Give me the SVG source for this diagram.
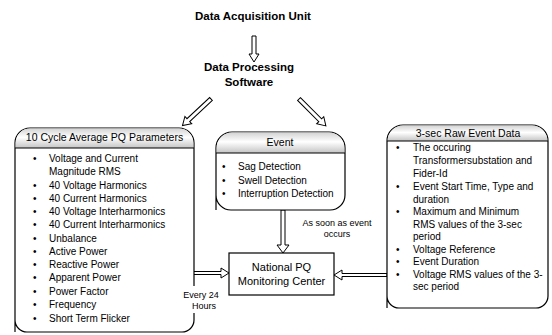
<svg xmlns="http://www.w3.org/2000/svg" width="552" height="335" viewBox="0 0 552 335">
<defs>
<linearGradient id="hdr" x1="0" y1="0" x2="0" y2="1">
<stop offset="0" stop-color="#d4d4d4"/>
<stop offset="0.45" stop-color="#ffffff"/>
<stop offset="1" stop-color="#c4c4c4"/>
</linearGradient>
<style>
text{font-family:"Liberation Sans",Arial,sans-serif;fill:#000}
.t{font-weight:bold;text-anchor:middle}
.h{font-size:10.5px;text-anchor:middle}
.l{font-size:10px}
.s{font-size:9px;text-anchor:middle}
.box{fill:#fff;stroke:#000;stroke-width:1.2}
.hd{fill:url(#hdr);stroke:none}
.ln{stroke:#000;stroke-width:1}
.arr{fill:#fff;stroke:#000;stroke-width:1}
</style>
</defs>
<rect width="552" height="335" fill="#fff"/>

<g id="acq">
<text class="t" x="253" y="20" font-size="11.5">Data Acquisition Unit</text>
</g>
<g id="dps">
<text class="t" x="249" y="71" font-size="11.5">Data Processing</text>
<text class="t" x="249" y="86" font-size="11.5">Software</text>
</g>

<g id="connectors">
<polygon class="arr" points="252,36 256,36 256,54 259,54 254,62 249,54 252,54"/>
<polygon class="arr" transform="translate(211,99) rotate(137)" points="0,-2 31,-2 31,-5 39,0 31,5 31,2 0,2"/>
<polygon class="arr" transform="translate(299,99) rotate(45)" points="0,-2 30,-2 30,-5 38,0 30,5 30,2 0,2"/>
<polygon class="arr" points="281,210 285,210 285,245 289,245 283,253 277,245 281,245"/>
<polygon class="arr" points="163,271.5 221,271.5 221,268 229,273 221,278 221,274.5 163,274.5"/>
<polygon class="arr" points="387,273.5 342,273.5 342,270 334,275 342,280 342,276.5 387,276.5"/>
</g>

<g id="pq10">
<path class="box" d="M15,332 V143 A15,15 0 0 1 30,128 H179 A15,15 0 0 1 194,143 V320 A12,12 0 0 1 182,332 H27 A12,12 0 0 1 15,320 Z"/>
<path class="hd" d="M15.6,148 V143 A14.4,14.4 0 0 1 30,128.6 H179 A14.4,14.4 0 0 1 193.4,143 V148 Z"/>
<line class="ln" x1="15" y1="148" x2="194" y2="148"/>
<text class="h" x="104.5" y="141" font-size="11">10 Cycle Average PQ Parameters</text>
<g class="l">
<text x="33" y="162">•</text><text x="49" y="162">Voltage and Current</text>
<text x="49" y="175">Magnitude RMS</text>
<text x="33" y="188.5">•</text><text x="49" y="188.5">40 Voltage Harmonics</text>
<text x="33" y="202">•</text><text x="49" y="202">40 Current Harmonics</text>
<text x="33" y="215">•</text><text x="49" y="215">40 Voltage Interharmonics</text>
<text x="33" y="228">•</text><text x="49" y="228">40 Current Interharmonics</text>
<text x="33" y="241.5">•</text><text x="49" y="241.5">Unbalance</text>
<text x="33" y="254.5">•</text><text x="49" y="254.5">Active Power</text>
<text x="33" y="268">•</text><text x="49" y="268">Reactive Power</text>
<text x="33" y="281">•</text><text x="49" y="281">Apparent Power</text>
<text x="33" y="295">•</text><text x="49" y="295">Power Factor</text>
<text x="33" y="308">•</text><text x="49" y="308">Frequency</text>
<text x="33" y="321.5">•</text><text x="49" y="321.5">Short Term Flicker</text>
</g>
</g>

<g id="every24">
<rect x="184" y="286" width="36" height="27" fill="#fff"/>
<text class="s" x="201" y="298">Every 24</text>
<text class="s" x="204" y="309">Hours</text>
</g>

<g id="event">
<path class="box" d="M216,210 V148 A16,16 0 0 1 232,132 H329 A16,16 0 0 1 345,148 V195 A15,15 0 0 1 330,210 H231 A15,15 0 0 1 216,195 Z"/>
<path class="hd" d="M216.6,153 V148 A15.4,15.4 0 0 1 232,132.6 H329 A15.4,15.4 0 0 1 344.4,148 V153 Z"/>
<line class="ln" x1="216" y1="153" x2="345" y2="153"/>
<text class="h" x="280" y="146">Event</text>
<g class="l">
<text x="222" y="170">•</text><text x="238" y="170">Sag Detection</text>
<text x="222" y="183.5">•</text><text x="238" y="183.5">Swell  Detection</text>
<text x="222" y="196.5">•</text><text x="238" y="196.5">Interruption  Detection</text>
</g>
</g>

<g id="asSoon">
<text class="s" x="337" y="226">As soon as event</text>
<text class="s" x="337" y="237">occurs</text>
</g>

<g id="npq">
<rect class="box" x="229" y="253" width="105" height="42"/>
<text x="281.5" y="271" font-size="11" text-anchor="middle">National PQ</text>
<text x="281.5" y="285" font-size="11" text-anchor="middle">Monitoring Center</text>
</g>

<g id="raw">
<path class="box" d="M387,308 V141 A16,16 0 0 1 403,125 H532 A16,16 0 0 1 548,141 V296 A12,12 0 0 1 536,308 H399 A12,12 0 0 1 387,296 Z"/>
<path class="hd" d="M387.6,141 A15.4,15.4 0 0 1 403,125.6 H532 A15.4,15.4 0 0 1 547.4,141 Z"/>
<line class="ln" x1="387" y1="141" x2="548" y2="141"/>
<text class="h" x="468" y="136.5">3-sec Raw Event Data</text>
<g class="l">
<text x="396" y="151">•</text><text x="413" y="151">The occuring</text>
<text x="413" y="164">Transformersubstation and</text>
<text x="413" y="177">Fider-Id</text>
<text x="396" y="190">•</text><text x="413" y="190">Event Start Time, Type and</text>
<text x="413" y="202.5">duration</text>
<text x="396" y="215">•</text><text x="413" y="215">Maximum and Minimum</text>
<text x="413" y="227.5">RMS values of the 3-sec</text>
<text x="413" y="240">period</text>
<text x="396" y="252.5">•</text><text x="413" y="252.5">Voltage Reference</text>
<text x="396" y="265">•</text><text x="413" y="265">Event Duration</text>
<text x="396" y="277.5">•</text><text x="413" y="277.5">Voltage RMS values of the 3-</text>
<text x="413" y="290">sec period</text>
</g>
</g>
</svg>
